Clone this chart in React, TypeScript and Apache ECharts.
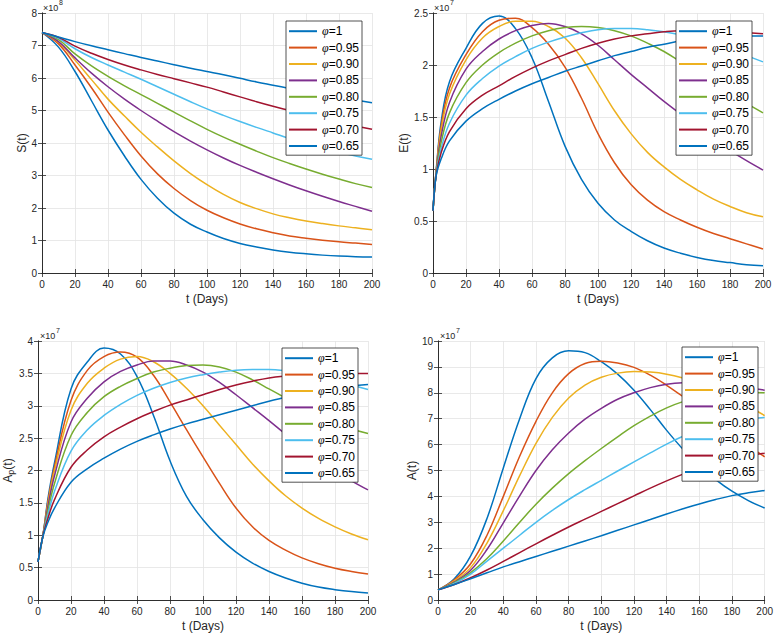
import React, { useEffect, useRef } from 'react';
import * as echarts from 'echarts';

// ---------- data ----------
const PHI_LABELS = ['φ=1', 'φ=0.95', 'φ=0.90', 'φ=0.85', 'φ=0.80', 'φ=0.75', 'φ=0.70', 'φ=0.65'];
const COLORS = ['#0072BD', '#D95319', '#EDB120', '#7E2F8E', '#77AC30', '#4DBEEE', '#A2142F', '#0072BD'];

const X_TICKS = { min: 0, max: 200, interval: 20 };

// S(t), ×10^8
const T_S = [0, 10, 20, 30, 40, 50, 60, 70, 80, 90, 100, 110, 120, 130, 140, 150, 160, 170, 180, 190, 200];
const S_VALUES: number[][] = [
  [7.4, 6.95, 6.2, 5.3, 4.4, 3.6, 2.88, 2.3, 1.84, 1.5, 1.26, 1.06, 0.91, 0.8, 0.71, 0.64, 0.59, 0.55, 0.52, 0.5, 0.49],
  [7.4, 7.05, 6.4, 5.7, 4.95, 4.25, 3.6, 3.05, 2.6, 2.23, 1.93, 1.7, 1.51, 1.36, 1.24, 1.14, 1.07, 1.01, 0.96, 0.92, 0.88],
  [7.4, 7.1, 6.55, 5.95, 5.35, 4.83, 4.33, 3.88, 3.45, 3.06, 2.72, 2.42, 2.17, 1.98, 1.82, 1.7, 1.6, 1.52, 1.45, 1.39, 1.33],
  [7.4, 7.12, 6.62, 6.15, 5.73, 5.35, 5.0, 4.67, 4.35, 4.06, 3.79, 3.54, 3.31, 3.1, 2.9, 2.71, 2.53, 2.36, 2.2, 2.05, 1.9],
  [7.4, 7.18, 6.74, 6.37, 6.05, 5.76, 5.49, 5.22, 4.95, 4.68, 4.42, 4.18, 3.96, 3.75, 3.55, 3.37, 3.2, 3.04, 2.89, 2.75, 2.63],
  [7.4, 7.22, 6.9, 6.63, 6.4, 6.18, 5.96, 5.73, 5.5, 5.27, 5.05, 4.85, 4.66, 4.48, 4.31, 4.14, 3.98, 3.85, 3.72, 3.6, 3.5],
  [7.4, 7.25, 6.98, 6.76, 6.57, 6.4, 6.25, 6.11, 5.98, 5.85, 5.72, 5.57, 5.42, 5.27, 5.13, 5.0, 4.87, 4.75, 4.63, 4.52, 4.42],
  [7.4, 7.26, 7.12, 6.99, 6.87, 6.75, 6.63, 6.52, 6.41, 6.3, 6.2, 6.1, 5.99, 5.88, 5.78, 5.68, 5.58, 5.49, 5.41, 5.32, 5.24],
];

// E(t), ×10^7
const T_E = [0, 2, 5, 10, 20, 30, 40, 50, 60, 70, 80, 90, 100, 110, 120, 130, 140, 150, 160, 170, 180, 190, 200];
const E_VALUES: number[][] = [
  [0.6, 1.0, 1.46, 1.84, 2.16, 2.4, 2.47, 2.35, 2.07, 1.65, 1.22, 0.9, 0.67, 0.51, 0.4, 0.31, 0.24, 0.19, 0.15, 0.12, 0.1, 0.08, 0.07],
  [0.6, 0.99, 1.42, 1.78, 2.1, 2.32, 2.43, 2.45, 2.36, 2.2, 1.98, 1.68, 1.34, 1.06, 0.85, 0.7, 0.59, 0.51, 0.44, 0.38, 0.33, 0.28, 0.23],
  [0.6, 0.99, 1.38, 1.72, 2.05, 2.26, 2.37, 2.42, 2.42, 2.37, 2.26, 2.07, 1.82, 1.56, 1.34, 1.16, 1.02, 0.9, 0.8, 0.71, 0.64, 0.58, 0.54],
  [0.6, 0.98, 1.32, 1.64, 1.96, 2.13, 2.25, 2.33, 2.38, 2.4, 2.37, 2.3, 2.19, 2.05, 1.91, 1.78, 1.65, 1.53, 1.41, 1.29, 1.18, 1.08, 0.99],
  [0.6, 0.97, 1.26, 1.54, 1.83, 2.0, 2.12, 2.21, 2.28, 2.33, 2.36, 2.37, 2.36, 2.33, 2.28, 2.21, 2.13, 2.03, 1.93, 1.83, 1.73, 1.63, 1.54],
  [0.6, 0.96, 1.2, 1.44, 1.71, 1.87, 1.99, 2.08, 2.16, 2.22, 2.27, 2.31, 2.34, 2.35, 2.35, 2.34, 2.32, 2.29, 2.25, 2.2, 2.15, 2.09, 2.03],
  [0.6, 0.95, 1.16, 1.36, 1.58, 1.71, 1.8, 1.89, 1.97, 2.04, 2.1, 2.16, 2.21, 2.25, 2.28, 2.3, 2.32, 2.33, 2.33, 2.33, 2.32, 2.31, 2.3],
  [0.6, 0.94, 1.1, 1.27, 1.46, 1.58, 1.67, 1.75, 1.82, 1.88, 1.94, 1.99, 2.04, 2.09, 2.13, 2.17, 2.2, 2.23, 2.25, 2.27, 2.28, 2.28, 2.28],
];

// Ap(t), ×10^7
const T_AP = [0, 3, 6, 10, 20, 30, 40, 50, 60, 70, 80, 90, 100, 110, 120, 130, 140, 150, 160, 170, 180, 190, 200];
const AP_VALUES: number[][] = [
  [0.59, 1.0, 1.56, 2.12, 3.26, 3.68, 3.89, 3.8, 3.45, 2.85, 2.15, 1.6, 1.24, 0.96, 0.74, 0.57, 0.44, 0.34, 0.26, 0.2, 0.16, 0.13, 0.11],
  [0.59, 1.0, 1.52, 2.06, 3.08, 3.55, 3.76, 3.83, 3.75, 3.47, 3.06, 2.63, 2.21, 1.8, 1.42, 1.13, 0.92, 0.77, 0.65, 0.56, 0.49, 0.44, 0.4],
  [0.59, 1.0, 1.48, 2.0, 2.93, 3.35, 3.58, 3.72, 3.76, 3.68, 3.5, 3.27, 3.0, 2.7, 2.4, 2.1, 1.84, 1.61, 1.42, 1.26, 1.13, 1.02, 0.93],
  [0.59, 1.0, 1.44, 1.92, 2.75, 3.12, 3.37, 3.53, 3.63, 3.69, 3.69, 3.63, 3.52, 3.36, 3.17, 2.97, 2.77, 2.56, 2.36, 2.17, 2.0, 1.84, 1.7],
  [0.59, 1.0, 1.38, 1.8, 2.54, 2.9, 3.14, 3.3, 3.42, 3.52, 3.58, 3.62, 3.63, 3.6, 3.52, 3.4, 3.26, 3.12, 2.98, 2.85, 2.73, 2.64, 2.57],
  [0.59, 0.99, 1.32, 1.68, 2.3, 2.63, 2.85, 3.02, 3.16, 3.27, 3.36, 3.43, 3.48, 3.52, 3.55, 3.56, 3.56, 3.54, 3.5, 3.45, 3.39, 3.32, 3.25],
  [0.59, 0.99, 1.26, 1.55, 2.05, 2.32, 2.52, 2.67, 2.8, 2.91, 3.01, 3.09, 3.17, 3.25, 3.32, 3.38, 3.43, 3.46, 3.48, 3.5, 3.5, 3.5, 3.5],
  [0.59, 0.98, 1.2, 1.42, 1.82, 2.03, 2.19, 2.33, 2.45, 2.55, 2.64, 2.72, 2.79, 2.86, 2.93, 3.0, 3.07, 3.13, 3.19, 3.24, 3.28, 3.31, 3.33],
];

// A(t), ×10^7
const T_A = [0, 10, 20, 30, 40, 50, 60, 70, 80, 90, 100, 110, 120, 130, 140, 150, 160, 170, 180, 190, 200];
const A_VALUES: number[][] = [
  [0.39, 0.82, 1.7, 3.15, 5.1, 7.0, 8.55, 9.35, 9.62, 9.55, 9.2, 8.72, 8.1, 7.35, 6.55, 5.82, 5.18, 4.65, 4.2, 3.84, 3.55],
  [0.39, 0.78, 1.4, 2.5, 4.0, 5.55, 6.9, 8.0, 8.74, 9.13, 9.22, 9.15, 8.98, 8.68, 8.29, 7.85, 7.38, 6.9, 6.42, 5.96, 5.53],
  [0.39, 0.74, 1.25, 2.2, 3.45, 4.8, 6.05, 7.05, 7.8, 8.3, 8.6, 8.76, 8.82, 8.8, 8.72, 8.57, 8.37, 8.12, 7.82, 7.48, 7.12],
  [0.39, 0.7, 1.15, 1.95, 2.98, 4.02, 5.0, 5.8, 6.45, 6.98, 7.4, 7.75, 8.0, 8.2, 8.33, 8.39, 8.4, 8.37, 8.3, 8.2, 8.1],
  [0.39, 0.67, 1.06, 1.6, 2.28, 3.0, 3.7, 4.32, 4.88, 5.38, 5.85, 6.3, 6.73, 7.1, 7.42, 7.66, 7.82, 7.93, 7.99, 8.01, 8.0],
  [0.39, 0.64, 1.0, 1.5, 2.0, 2.5, 3.0, 3.46, 3.88, 4.26, 4.62, 4.98, 5.33, 5.68, 6.02, 6.32, 6.57, 6.76, 6.9, 6.99, 7.05],
  [0.39, 0.6, 0.86, 1.16, 1.49, 1.83, 2.17, 2.5, 2.82, 3.12, 3.42, 3.72, 4.02, 4.32, 4.6, 4.86, 5.1, 5.3, 5.46, 5.58, 5.67],
  [0.39, 0.6, 0.82, 1.05, 1.28, 1.48, 1.68, 1.88, 2.08, 2.28, 2.48, 2.69, 2.9, 3.11, 3.32, 3.52, 3.71, 3.88, 4.03, 4.14, 4.23],
];

const X_NAME = 't (Days)';
const Y_NAMES = ['S(t)', 'E(t)', 'A{sub|p}(t)', 'A(t)'];
const EXPONENTS = ['8', '7', '7', '7'];
const Y_RANGES = [
  { min: 0, max: 8, interval: 1 },
  { min: 0, max: 2.5, interval: 0.5 },
  { min: 0, max: 4, interval: 0.5 },
  { min: 0, max: 10, interval: 1 },
];

// ---------- layout / style ----------
const FONT = '"Liberation Sans", Arial, Helvetica, sans-serif';
const INK = '#262626';
const GRID_LINE = '#e3e3e3';

const LAYOUT = [
  { grid: { left: 42, top: 13, width: 330, height: 260 }, nameGap: 13, legend: { left: 286, top: 21 }, exp: { x: 43, y: 3 } },
  { grid: { left: 433, top: 13, width: 330, height: 260 }, nameGap: 21, legend: { left: 676, top: 21 }, exp: { x: 434, y: 3 } },
  { grid: { left: 38, top: 341, width: 330, height: 259 }, nameGap: 22, legend: { left: 282, top: 348 }, exp: { x: 40, y: 331 } },
  { grid: { left: 438, top: 341, width: 330, height: 259 }, nameGap: 17, legend: { left: 682, top: 347 }, exp: { x: 440, y: 331 } },
];

const PANEL_DATA = [
  { t: T_S, values: S_VALUES },
  { t: T_E, values: E_VALUES },
  { t: T_AP, values: AP_VALUES },
  { t: T_A, values: A_VALUES },
];

function buildOption() {
  const grid: any[] = [];
  const xAxis: any[] = [];
  const yAxis: any[] = [];
  const series: any[] = [];
  const legend: any[] = [];
  const graphic: any[] = [];

  const axisLine = { show: true, lineStyle: { color: INK, width: 0.8 } };
  const tick = { show: true, inside: true, length: 4, lineStyle: { color: INK, width: 0.8 } };

  LAYOUT.forEach((lay, g) => {
    grid.push({ ...lay.grid, containLabel: false });
    xAxis.push({
      type: 'value', gridIndex: g, position: 'bottom', ...X_TICKS,
      axisLine, axisTick: tick,
      axisLabel: { margin: 6, fontSize: 10, color: INK, fontFamily: FONT },
      splitLine: { show: true, lineStyle: { color: GRID_LINE, width: 0.8 } },
      name: X_NAME, nameLocation: 'middle', nameGap: 20,
      nameTextStyle: { fontSize: 12, color: INK, fontFamily: FONT },
    });
    xAxis.push({
      type: 'value', gridIndex: g, position: 'top', ...X_TICKS,
      axisLine, axisTick: tick, axisLabel: { show: false }, splitLine: { show: false },
    });
    yAxis.push({
      type: 'value', gridIndex: g, position: 'left', ...Y_RANGES[g],
      axisLine, axisTick: tick,
      axisLabel: { margin: 5, fontSize: 10, color: INK, fontFamily: FONT },
      splitLine: { show: true, lineStyle: { color: GRID_LINE, width: 0.8 } },
      name: Y_NAMES[g], nameLocation: 'middle', nameGap: lay.nameGap,
      nameTextStyle: {
        fontSize: 12, color: INK, fontFamily: FONT,
        rich: { sub: { fontSize: 9, color: INK, fontFamily: FONT, padding: [6, 0, 0, 0] } },
      },
    });
    yAxis.push({
      type: 'value', gridIndex: g, position: 'right', ...Y_RANGES[g],
      axisLine, axisTick: tick, axisLabel: { show: false }, splitLine: { show: false },
    });

    const pd = PANEL_DATA[g];
    pd.values.forEach((vals, i) => {
      series.push({
        type: 'line',
        name: PHI_LABELS[i],
        xAxisIndex: 2 * g,
        yAxisIndex: 2 * g,
        data: pd.t.map((tt, k) => [tt, vals[k]]),
        symbol: 'none',
        showSymbol: false,
        smooth: 0.4,
        silent: true,
        lineStyle: { color: COLORS[i], width: 1.5 },
        itemStyle: { color: COLORS[i] },
      });
    });

    legend.push({
      data: PHI_LABELS,
      orient: 'vertical',
      left: lay.legend.left,
      top: lay.legend.top,
      padding: [2, 3, 1, 3],
      itemGap: 0,
      itemWidth: 28,
      itemHeight: 2,
      icon: 'rect',
      selectedMode: false,
      backgroundColor: '#ffffff',
      borderColor: INK,
      borderWidth: 0.8,
      formatter: (name: string) => `{p|${name.slice(0, 1)}}{n|${name.slice(1)}}`,
      textStyle: {
        fontSize: 12, color: '#000', fontFamily: FONT, lineHeight: 16.4,
        rich: {
          p: { fontSize: 12, fontStyle: 'italic', fontFamily: '"Liberation Serif", serif', lineHeight: 16.4, color: '#000' },
          n: { fontSize: 12, fontFamily: FONT, lineHeight: 16.4, color: '#000' },
        },
      },
    });

    graphic.push({
      type: 'group',
      silent: true,
      children: [
        { type: 'text', x: lay.exp.x, y: lay.exp.y, style: { text: '×10', fontSize: 9, fontFamily: FONT, fill: INK, verticalAlign: 'top' } },
        { type: 'text', x: lay.exp.x + 16, y: lay.exp.y - 4, style: { text: EXPONENTS[g], fontSize: 7, fontFamily: FONT, fill: INK, verticalAlign: 'top' } },
      ],
    });
  });

  return { animation: false, backgroundColor: '#ffffff', grid, xAxis, yAxis, series, legend, graphic };
}

export default function App() {
  const ref = useRef<HTMLDivElement | null>(null);
  useEffect(() => {
    if (!ref.current) return;
    const chart = echarts.init(ref.current, undefined, { renderer: 'svg' });
    chart.setOption(buildOption() as any);
    return () => chart.dispose();
  }, []);
  return (
    <div
      ref={ref}
      style={{ position: 'fixed', left: 0, top: 0, width: 776, height: 634, background: '#fff' }}
    />
  );
}
